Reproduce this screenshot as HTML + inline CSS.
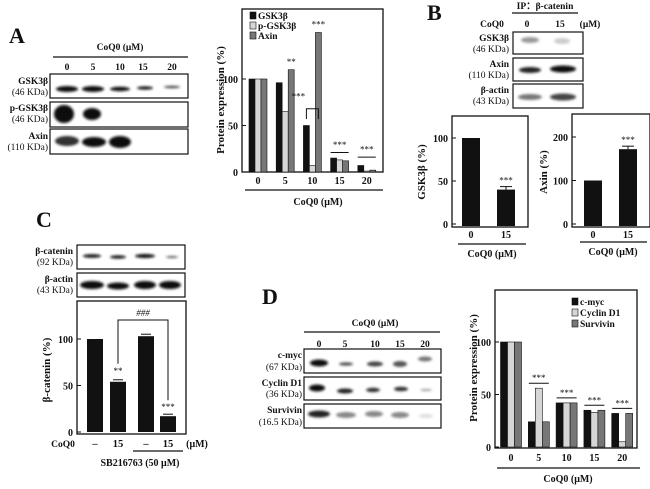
<!DOCTYPE html>
<html><head><meta charset="utf-8">
<style>
html,body{margin:0;padding:0;background:#fff;}
svg{display:block;font-family:"Liberation Serif",serif;}
text{fill:#111;}
</style></head>
<body>
<svg id="fig" width="650" height="489" viewBox="0 0 650 489" xmlns="http://www.w3.org/2000/svg">
<defs><filter id="bl" x="-20%" y="-50%" width="140%" height="200%"><feGaussianBlur stdDeviation="1.2"/></filter></defs>
<g id="static" font-weight="bold">
 <!-- Panel labels -->
 <text x="9" y="43" font-size="22">A</text>
 <text x="427" y="20" font-size="22">B</text>
 <text x="36" y="227" font-size="22">C</text>
 <text x="262" y="304" font-size="22">D</text>

 <!-- Blot A -->
 <g font-size="9.5">
  <text x="120" y="50" text-anchor="middle">CoQ0 (μM)</text>
  <line x1="53" y1="57" x2="188" y2="57" stroke="#111" stroke-width="1.2"/>
  <text x="67" y="70" text-anchor="middle">0</text><text x="93" y="70" text-anchor="middle">5</text>
  <text x="120" y="70" text-anchor="middle">10</text><text x="143" y="70" text-anchor="middle">15</text><text x="172" y="70" text-anchor="middle">20</text>
  <rect x="50" y="74" width="138" height="24" fill="none" stroke="#111" stroke-width="1.2"/>
  <rect x="50" y="102" width="138" height="25" fill="none" stroke="#111" stroke-width="1.2"/>
  <rect x="50" y="129" width="138" height="25" fill="none" stroke="#111" stroke-width="1.2"/>
  <text x="48" y="84" text-anchor="end">GSK3β</text><text x="48" y="95" text-anchor="end" font-weight="normal">(46 KDa)</text>
  <text x="48" y="111" text-anchor="end">p-GSK3β</text><text x="48" y="122" text-anchor="end" font-weight="normal">(46 KDa)</text>
  <text x="48" y="139" text-anchor="end">Axin</text><text x="48" y="150" text-anchor="end" font-weight="normal">(110 KDa)</text>
  <g filter="url(#bl)" fill="#111">
   <ellipse cx="67" cy="89" rx="11" ry="3"/><ellipse cx="93" cy="89" rx="11" ry="3"/><ellipse cx="120" cy="89" rx="10" ry="2.2"/>
   <ellipse cx="145" cy="88" rx="8" ry="1.6"/><ellipse cx="172" cy="87" rx="8" ry="1.3" fill="#444"/>
   <ellipse cx="64" cy="114" rx="10" ry="9"/><ellipse cx="92" cy="114" rx="9" ry="6"/>
   <ellipse cx="67" cy="141" rx="12" ry="5" fill="#333"/><ellipse cx="94" cy="142" rx="12" ry="5"/><ellipse cx="120" cy="142" rx="11" ry="6"/>
  </g>
 </g>

 <!-- Blot B -->
 <g font-size="9.5">
  <text x="545" y="9" text-anchor="middle">IP：β-catenin</text>
  <line x1="512" y1="13" x2="578" y2="13" stroke="#111" stroke-width="1.2"/>
  <text x="492" y="27" text-anchor="middle">CoQ0</text><text x="527" y="27" text-anchor="middle">0</text>
  <text x="560" y="27" text-anchor="middle">15</text><text x="590" y="27" text-anchor="middle">(μM)</text>
  <rect x="513" y="32" width="70" height="22" fill="none" stroke="#111" stroke-width="1.2"/>
  <rect x="513" y="58" width="70" height="23" fill="none" stroke="#111" stroke-width="1.2"/>
  <rect x="513" y="84" width="70" height="24" fill="none" stroke="#111" stroke-width="1.2"/>
  <text x="509" y="41" text-anchor="end">GSK3β</text><text x="509" y="52" text-anchor="end" font-weight="normal">(46 KDa)</text>
  <text x="509" y="67" text-anchor="end">Axin</text><text x="509" y="78" text-anchor="end" font-weight="normal">(110 KDa)</text>
  <text x="509" y="93" text-anchor="end">β-actin</text><text x="509" y="104" text-anchor="end" font-weight="normal">(43 KDa)</text>
  <g filter="url(#bl)">
   <ellipse cx="530" cy="40" rx="9" ry="3" fill="#999"/><ellipse cx="562" cy="41" rx="8" ry="3" fill="#ccc"/>
   <ellipse cx="530" cy="70" rx="11" ry="3" fill="#222"/><ellipse cx="563" cy="69" rx="13" ry="3.5" fill="#111"/>
   <ellipse cx="530" cy="97" rx="12" ry="3" fill="#777"/><ellipse cx="563" cy="97" rx="13" ry="3.5" fill="#444"/>
  </g>
 </g>

 <!-- Blot C -->
 <g font-size="9.5">
  <rect x="77" y="245" width="108" height="24" fill="none" stroke="#111" stroke-width="1.2"/>
  <rect x="77" y="273" width="108" height="24" fill="none" stroke="#111" stroke-width="1.2"/>
  <text x="73" y="254" text-anchor="end">β-catenin</text><text x="73" y="265" text-anchor="end" font-weight="normal">(92 KDa)</text>
  <text x="73" y="282" text-anchor="end">β-actin</text><text x="73" y="293" text-anchor="end" font-weight="normal">(43 KDa)</text>
  <g filter="url(#bl)" fill="#111">
   <ellipse cx="92" cy="256" rx="9" ry="1.8"/><ellipse cx="118" cy="257" rx="8" ry="1.6"/><ellipse cx="145" cy="256" rx="10" ry="2"/><ellipse cx="172" cy="257" rx="6" ry="1" fill="#555"/>
   <ellipse cx="92" cy="285" rx="12" ry="4"/><ellipse cx="118" cy="286" rx="11" ry="3.5"/><ellipse cx="145" cy="285" rx="11" ry="4"/><ellipse cx="170" cy="285" rx="11" ry="4"/>
  </g>
 </g>

 <!-- Blot D -->
 <g font-size="9.5">
  <text x="375" y="326" text-anchor="middle">CoQ0 (μM)</text>
  <line x1="304" y1="332" x2="440" y2="332" stroke="#111" stroke-width="1.2"/>
  <text x="319" y="347" text-anchor="middle">0</text><text x="345" y="347" text-anchor="middle">5</text>
  <text x="375" y="347" text-anchor="middle">10</text><text x="400" y="347" text-anchor="middle">15</text><text x="425" y="347" text-anchor="middle">20</text>
  <rect x="304" y="349" width="137" height="24" fill="none" stroke="#111" stroke-width="1.2"/>
  <rect x="304" y="377" width="137" height="23" fill="none" stroke="#111" stroke-width="1.2"/>
  <rect x="304" y="404" width="137" height="24" fill="none" stroke="#111" stroke-width="1.2"/>
  <text x="302" y="358" text-anchor="end">c-myc</text><text x="302" y="370" text-anchor="end" font-weight="normal">(67 KDa)</text>
  <text x="302" y="386" text-anchor="end">Cyclin D1</text><text x="302" y="397" text-anchor="end" font-weight="normal">(36 KDa)</text>
  <text x="302" y="413" text-anchor="end">Survivin</text><text x="302" y="425" text-anchor="end" font-weight="normal">(16.5 KDa)</text>
  <g filter="url(#bl)">
   <ellipse cx="319" cy="363" rx="9" ry="3.5" fill="#111"/><ellipse cx="346" cy="364" rx="7" ry="1.8" fill="#555"/><ellipse cx="375" cy="364" rx="8" ry="2.5" fill="#444"/><ellipse cx="400" cy="364" rx="7" ry="3" fill="#555"/><ellipse cx="425" cy="359" rx="7" ry="2.5" fill="#777"/>
   <ellipse cx="317" cy="388" rx="8" ry="3.5" fill="#111"/><ellipse cx="345" cy="391" rx="8" ry="2.5" fill="#222"/><ellipse cx="373" cy="390" rx="7" ry="2.2" fill="#333"/><ellipse cx="401" cy="389" rx="7" ry="2.3" fill="#333"/><ellipse cx="426" cy="390" rx="6" ry="1" fill="#999"/>
   <ellipse cx="319" cy="414" rx="11" ry="3.5" fill="#222"/><ellipse cx="346" cy="415" rx="10" ry="3" fill="#888"/><ellipse cx="374" cy="414" rx="9" ry="3" fill="#888"/><ellipse cx="400" cy="415" rx="9" ry="3" fill="#888"/><ellipse cx="426" cy="416" rx="7" ry="2" fill="#ddd"/>
  </g>
 </g>
</g>
<g id="charts"></g>
</svg>
<script>
// ---- Chart A data ----
const aCats = ["0","5","10","15","20"];
const aGsk = [100, 96, 50, 15, 7];
const aPgsk = [100, 65, 7, 13, 1];
const aAxin = [100, 110, 150, 12, 2];
const aTicks = [0, 50, 100];
// ---- Chart B data ----
const bCats = ["0","15"];
const bGsk = [100, 40];
const bAxin = [100, 172];
const bGskTicks = [0, 50, 100];
const bAxinTicks = [0, 100, 200];
// ---- Chart C data ----
const cCoq = ["–","15","–","15"];
const cCat = [100, 54, 103, 17];
const cTicks = [0, 50, 100];
// ---- Chart D data ----
const dCats = ["0","5","10","15","20"];
const dMyc = [100, 24, 42, 35, 32];
const dCyc = [100, 56, 42, 33, 5];
const dSurv = [100, 24, 42, 35, 32];
const dTicks = [0, 50, 100];

const NS = "http://www.w3.org/2000/svg";
const root = document.getElementById("charts");
function mk(tag, attrs, parent, txt) {
  const e = document.createElementNS(NS, tag);
  for (const k in attrs) e.setAttribute(k, attrs[k]);
  if (txt !== undefined) e.textContent = txt;
  (parent || root).appendChild(e);
  return e;
}
function scaleY(y0, y100) { return v => y0 + (y100 - y0) * v / 100; }
const COLS = ["#111", "#d6d6d6", "#777"];

// ===== Chart A =====
(function(){
  const g = mk("g", {});
  
  
  const y = scaleY(172, 79);
  const x = i => 258 + i * 27.2;
  const fr = mk("rect", {x:242,y:9,width:141,height:163,fill:"none",stroke:"#111","stroke-width":1.3}, g);
  
  
  aTicks.forEach(t => {
    mk("line", {x1:242,x2:246,y1:y(t),y2:y(t),stroke:"#111"}, g);
    const tl = mk("text", {x:238,y:y(t)+4,"text-anchor":"end","font-size":10,"font-weight":"bold"}, g, t);
    
    
  });
  const series = [aGsk, aPgsk, aAxin];
  const sn = ["gsk3b", "p-gsk3b", "axin"];
  series.forEach((s, si) => s.forEach((v, i) => {
    const bx = x(i) - 9 + si * 6;
    const r = mk("rect", {x:bx,y:y(v),width:6,height:172-y(v),fill:COLS[si],stroke:"#111","stroke-width":0.6}, g);
    
    
  }));
  aCats.forEach((c, i) => {
    const t = mk("text", {x:x(i),y:184,"text-anchor":"middle","font-size":10,"font-weight":"bold"}, g, c);
    
    
  });
  // significance
  const st = [["**",1,2,110],["***",1,1,65],["***",2,2,150],["***",3,1,15],["***",4,1,7]];
  mk("text", {x:x(1)+6,y:y(112)-3,"text-anchor":"middle","font-size":9,fill:"#999"}, g, "**");
  mk("text", {x:x(2)+6,y:y(152)-3,"text-anchor":"middle","font-size":9,fill:"#999"}, g, "***");
  mk("text", {x:x(2)-14,y:y(78),"text-anchor":"middle","font-size":9,fill:"#999"}, g, "***");
  mk("path", {d:`M${x(2)-6} ${y(57)} V${y(68)} H${x(2)+6} V${y(57)}`,fill:"none",stroke:"#111"}, g);
  mk("text", {x:x(3),y:y(26),"text-anchor":"middle","font-size":9,fill:"#999"}, g, "***");
  mk("line", {x1:x(3)-9,x2:x(3)+9,y1:y(21),y2:y(21),stroke:"#111"}, g);
  mk("text", {x:x(4),y:y(21),"text-anchor":"middle","font-size":9,fill:"#999"}, g, "***");
  mk("line", {x1:x(4)-9,x2:x(4)+9,y1:y(16),y2:y(16),stroke:"#111"}, g);
  mk("line", {x1:245,x2:383,y1:190,y2:190,stroke:"#111","stroke-width":1.2}, g);
  const xt = mk("text", {x:318,y:205,"text-anchor":"middle","font-size":10,"font-weight":"bold"}, g, "CoQ0 (μM)");
  
  
  const yt = mk("text", {x:0,y:0,"text-anchor":"middle","font-size":11,"font-weight":"bold",transform:"translate(224,100) rotate(-90)"}, g, "Protein expression (%)");
  
  
  const labels = ["GSK3β", "p-GSK3β", "Axin"];
  labels.forEach((l, i) => {
    const lg = mk("g", {}, g);
    
    
    mk("rect", {x:250,y:12+i*10,width:6,height:7,fill:COLS[i],stroke:"#111","stroke-width":0.6}, lg);
    mk("text", {x:258,y:19+i*10,"font-size":9.5,"font-weight":"bold"}, lg, l);
  });
})();

// ===== Chart B (two small charts) =====
function smallChart(name, vals, ticks, tmax, fx, fw, yTop, y0, yMax, xs, title, titleX, lineX1, lineX2, lineY, capX) {
  const g = mk("g", {});
  
  
  const y = v => y0 + (yMax - y0) * v / tmax;
  mk("rect", {x:fx,y:yTop,width:fw,height:227-yTop,fill:"none",stroke:"#111","stroke-width":1.3}, g);
  ticks.forEach(t => {
    mk("line", {x1:fx,x2:fx+4,y1:y(t),y2:y(t),stroke:"#111"}, g);
    const tl = mk("text", {x:fx-4,y:y(t)+4,"text-anchor":"end","font-size":10,"font-weight":"bold"}, g, t);
    
    
  });
  vals.forEach((v, i) => {
    const r = mk("rect", {x:xs[i]-9,y:y(v),width:18,height:y0-y(v)+2,fill:"#111"}, g);
    
    
    const t = mk("text", {x:xs[i],y:238,"text-anchor":"middle","font-size":10,"font-weight":"bold"}, g, bCats[i]);
    
    
  });
  mk("line", {x1:xs[1]-6,x2:xs[1]+6,y1:y(vals[1])-3,y2:y(vals[1])-3,stroke:"#111"}, g);
  mk("line", {x1:xs[1],x2:xs[1],y1:y(vals[1]),y2:y(vals[1])-3,stroke:"#111"}, g);
  mk("text", {x:xs[1],y:y(vals[1])-6,"text-anchor":"middle","font-size":9,fill:"#999"}, g, "***");
  mk("line", {x1:lineX1,x2:lineX2,y1:lineY,y2:lineY,stroke:"#111","stroke-width":1.2}, g);
  const xt = mk("text", {x:capX,y:lineY+13,"text-anchor":"middle","font-size":10,"font-weight":"bold"}, g, "CoQ0 (μM)");
  
  
  const yt = mk("text", {x:0,y:0,"text-anchor":"middle","font-size":11,"font-weight":"bold",transform:`translate(${titleX},172) rotate(-90)`}, g, title);
  
  
}
smallChart("chart-b-gsk3b", bGsk, bGskTicks, 100, 452, 76, 116, 224, 138, [471, 506], "GSK3β (%)", 425, 458, 526, 244, 492);
smallChart("chart-b-axin", bAxin, bAxinTicks, 200, 572, 78, 114, 224, 137, [593, 628], "Axin (%)", 547, 580, 647, 242, 613);

// ===== Chart C =====
(function(){
  const g = mk("g", {});
  
  
  const y = scaleY(432, 339);
  const xs = [95, 118, 146, 168];
  mk("rect", {x:77,y:301,width:109,height:133,fill:"none",stroke:"#111","stroke-width":1.3}, g);
  cTicks.forEach(t => {
    mk("line", {x1:77,x2:81,y1:y(t),y2:y(t),stroke:"#111"}, g);
    const tl = mk("text", {x:73,y:y(t)+4,"text-anchor":"end","font-size":10,"font-weight":"bold"}, g, t);
    
    
  });
  cCat.forEach((v, i) => {
    const r = mk("rect", {x:xs[i]-8,y:y(v),width:16,height:432-y(v),fill:"#111"}, g);
    
    
    if (i > 0) mk("line", {x1:xs[i]-5,x2:xs[i]+5,y1:y(v)-2,y2:y(v)-2,stroke:"#111"}, g);
    const t = mk("text", {x:xs[i],y:447,"text-anchor":"middle","font-size":10.5,"font-weight":"bold"}, g, cCoq[i]);
    
    
  });
  mk("text", {x:y(0)*0+63,y:447,"text-anchor":"middle","font-size":9.5,"font-weight":"bold"}, g, "CoQ0");
  mk("text", {x:197,y:447,"text-anchor":"middle","font-size":10,"font-weight":"bold"}, g, "(μM)");
  mk("text", {x:xs[1],y:y(cCat[1])-8,"text-anchor":"middle","font-size":9,fill:"#999"}, g, "**");
  mk("text", {x:xs[3],y:y(cCat[3])-6,"text-anchor":"middle","font-size":9,fill:"#999"}, g, "***");
  mk("path", {d:`M${xs[1]} ${y(cCat[1])-18} V320 H${xs[3]} V${y(cCat[3])-16}`,fill:"none",stroke:"#111"}, g);
  mk("text", {x:143,y:316,"text-anchor":"middle","font-size":9,"font-style":"italic",fill:"#555"}, g, "###");
  mk("line", {x1:133,x2:183,y1:451,y2:451,stroke:"#111","stroke-width":1.2}, g);
  mk("text", {x:140,y:466,"text-anchor":"middle","font-size":10,"font-weight":"bold"}, g, "SB216763 (50 μM)");
  const yt = mk("text", {x:0,y:0,"text-anchor":"middle","font-size":11,"font-weight":"bold",transform:"translate(50,370) rotate(-90)"}, g, "β-catenin (%)");
  
  
})();

// ===== Chart D =====
(function(){
  const g = mk("g", {});
  
  
  const y = scaleY(447, 342);
  const x = i => 511 + i * 27.8;
  mk("rect", {x:495,y:290,width:142,height:158,fill:"none",stroke:"#111","stroke-width":1.3}, g);
  dTicks.forEach(t => {
    mk("line", {x1:495,x2:499,y1:y(t),y2:y(t),stroke:"#111"}, g);
    const tl = mk("text", {x:491,y:y(t)+4,"text-anchor":"end","font-size":10,"font-weight":"bold"}, g, t);
    
    
  });
  const series = [dMyc, dCyc, dSurv];
  const sn = ["c-myc", "cyclin-d1", "survivin"];
  series.forEach((s, si) => s.forEach((v, i) => {
    const r = mk("rect", {x:x(i)-10.5+si*7,y:y(v),width:7,height:447-y(v),fill:COLS[si],stroke:"#111","stroke-width":0.6}, g);
    
    
  }));
  dCats.forEach((c, i) => {
    const t = mk("text", {x:x(i),y:461,"text-anchor":"middle","font-size":10,"font-weight":"bold"}, g, c);
    
    
    if (i > 0) {
      const top = Math.max(dMyc[i], dCyc[i], dSurv[i]);
      mk("line", {x1:x(i)-10,x2:x(i)+10,y1:y(top)-5,y2:y(top)-5,stroke:"#111"}, g);
      mk("text", {x:x(i),y:y(top)-7,"text-anchor":"middle","font-size":9,fill:"#999"}, g, "***");
    }
  });
  mk("line", {x1:497,x2:640,y1:468,y2:468,stroke:"#111","stroke-width":1.2}, g);
  const xt = mk("text", {x:568,y:482,"text-anchor":"middle","font-size":10,"font-weight":"bold"}, g, "CoQ0 (μM)");
  
  
  const yt = mk("text", {x:0,y:0,"text-anchor":"middle","font-size":11,"font-weight":"bold",transform:"translate(477,368) rotate(-90)"}, g, "Protein expression (%)");
  
  
  const labels = ["c-myc", "Cyclin D1", "Survivin"];
  labels.forEach((l, i) => {
    const lg = mk("g", {}, g);
    
    
    mk("rect", {x:572,y:298+i*11,width:6,height:7,fill:COLS[i],stroke:"#111","stroke-width":0.6}, lg);
    mk("text", {x:580,y:305+i*11,"font-size":9.5,"font-weight":"bold"}, lg, l);
  });
})();
</script>
</body></html>
